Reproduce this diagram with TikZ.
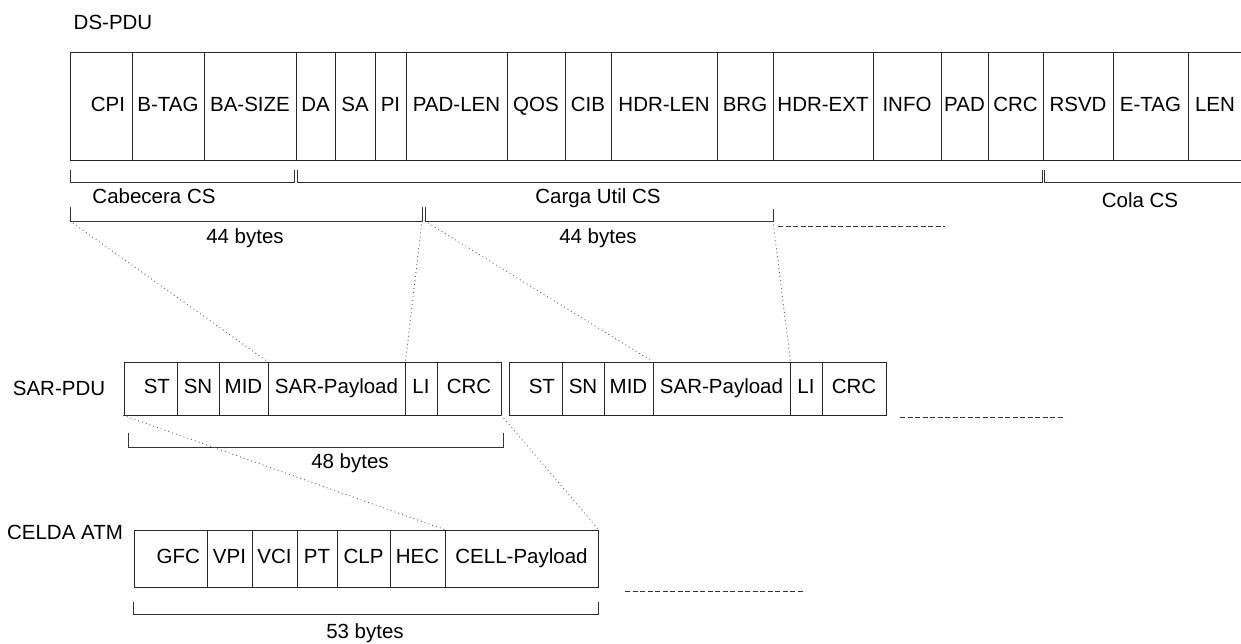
\documentclass[tikz,border=0pt]{standalone}
\usepackage{fontspec}
\setmainfont{Liberation Sans}

\begin{document}
\begin{tikzpicture}[x=1pt,y=-1pt,line width=0.9pt,
 every node/.style={font=\fontsize{20.5}{24}\selectfont},
 f/.style={draw=black!85,inner sep=0pt,text height=14.7pt,text depth=4.3pt},
 dsf/.style={f,minimum height=108},
 sarf/.style={f,minimum height=53},
 atmf/.style={f,minimum height=57},
 fst/.style={align=right,inner xsep=7pt},
 br/.style={draw=black!80,line width=1pt},
 dl/.style={black!65,line width=1.2pt,line cap=round,dash pattern=on 0pt off 4pt},
 dsh/.style={black!80,line width=0.9pt,dash pattern=on 5pt off 2.5pt},
 lab/.style={inner sep=0pt}]
\useasboundingbox (0,0) rectangle (1241,643);
\clip (0,0) rectangle (1241,643);
% DS-PDU
\node[lab] (dslab) at (113,22) {DS-PDU};
\node[dsf,fst,minimum width=62,text width=48] (cpi) at (101,106) {CPI};
\node[dsf,minimum width=72] (btag) at (168,106) {B-TAG};
\node[dsf,minimum width=92] (basize) at (250,106) {BA-SIZE};
\node[dsf,minimum width=39] (da) at (315.5,106) {DA};
\node[dsf,minimum width=40] (sa) at (355,106) {SA};
\node[dsf,minimum width=31] (pi) at (390.5,106) {PI};
\node[dsf,minimum width=101] (padlen) at (456.5,106) {PAD-LEN};
\node[dsf,minimum width=58] (qos) at (536,106) {QOS};
\node[dsf,minimum width=46] (cib) at (588,106) {CIB};
\node[dsf,minimum width=106] (hdrlen) at (664,106) {HDR-LEN};
\node[dsf,minimum width=56] (brg) at (745,106) {BRG};
\node[dsf,minimum width=100] (hdrext) at (823,106) {HDR-EXT};
\node[dsf,minimum width=68] (info) at (907,106) {INFO};
\node[dsf,minimum width=47] (pad) at (964.5,106) {PAD};
\node[dsf,minimum width=55] (crc) at (1015.5,106) {CRC};
\node[dsf,minimum width=70] (rsvd) at (1078,106) {RSVD};
\node[dsf,minimum width=75] (etag) at (1150.5,106) {E-TAG};
\node[dsf,minimum width=54] (len) at (1215,106) {LEN};
% cabecera / carga / cola
\draw[br] (70,170) -- (70,182) -- (294,182) -- (294,170);
\draw[br] (297,170) -- (297,182) -- (1042,182) -- (1042,170);
\draw[br] (1044,170) -- (1044,182) -- (1260,182);
\node[lab] (cab) at (154,196) {Cabecera CS};
\node[lab] (carga) at (598,198) {Carga Util CS};
\node[lab] (cola) at (1140,200) {Cola CS};
% 44 bytes
\coordinate (b1l) at (70,221);
\coordinate (b1r) at (422,221);
\coordinate (b2l) at (425,221);
\coordinate (b2r) at (773,221);
\draw[br] (70,207) -- (b1l) -- (b1r) -- (422,207);
\draw[br] (425,207) -- (b2l) -- (b2r) -- (773,209);
\draw[dsh] (778,226) -- (945,226);
\node[lab] (by1) at (245,238) {44 bytes};
\node[lab] (by2) at (598,238) {44 bytes};
% SAR-PDU
\node[lab] (sarlab) at (59,388) {SAR-PDU};
\node[sarf,fst,minimum width=53,text width=39] (st1) at (150.5,388.5) {ST};
\node[sarf,minimum width=42] (sn1) at (198,388.5) {SN};
\node[sarf,minimum width=49] (mid1) at (243.5,388.5) {MID};
\node[sarf,minimum width=137] (sp1) at (336.5,388.5) {SAR-Payload};
\node[sarf,minimum width=32] (li1) at (421,388.5) {LI};
\node[sarf,minimum width=64] (crc1) at (469,388.5) {CRC};
\node[sarf,fst,minimum width=53,text width=39] (st2) at (535.5,388.5) {ST};
\node[sarf,minimum width=42] (sn2) at (583,388.5) {SN};
\node[sarf,minimum width=49] (mid2) at (628.5,388.5) {MID};
\node[sarf,minimum width=137] (sp2) at (721.5,388.5) {SAR-Payload};
\node[sarf,minimum width=32] (li2) at (806,388.5) {LI};
\node[sarf,minimum width=64] (crc2) at (854,388.5) {CRC};
\draw[dsh] (900,417) -- (1065,417);
\draw[br] (128,433) -- (128,447) -- (503,447) -- (503,433);
\node[lab] (by3) at (350,463) {48 bytes};
% celda ATM
\node[lab] (atmlab) at (65,532) {CELDA ATM};
\node[atmf,fst,minimum width=73,text width=59] (gfc) at (170.5,558.5) {GFC};
\node[atmf,minimum width=45] (vpi) at (229.5,558.5) {VPI};
\node[atmf,minimum width=45] (vci) at (274.5,558.5) {VCI};
\node[atmf,minimum width=40] (pt) at (317,558.5) {PT};
\node[atmf,minimum width=53] (clp) at (363.5,558.5) {CLP};
\node[atmf,minimum width=55] (hec) at (417.5,558.5) {HEC};
\node[atmf,minimum width=153] (cellpay) at (521.5,558.5) {CELL-Payload};
\draw[dsh] (625,591) -- (805,591);
\draw[br] (133,602) -- (133,614) -- (598,614) -- (598,602);
\node[lab] (by4) at (365,633) {53 bytes};
% dotted
\draw[dl] (b1l) -- (sp1.north west);
\draw[dl] (b1r) -- (sp1.north east);
\draw[dl] (b2l) -- (sp2.north west);
\draw[dl] (b2r) -- (sp2.north east);
\draw[dl] (st1.south west) -- (cellpay.north west);
\draw[dl] (crc1.south east) -- (cellpay.north east);
\end{tikzpicture}
\end{document}
